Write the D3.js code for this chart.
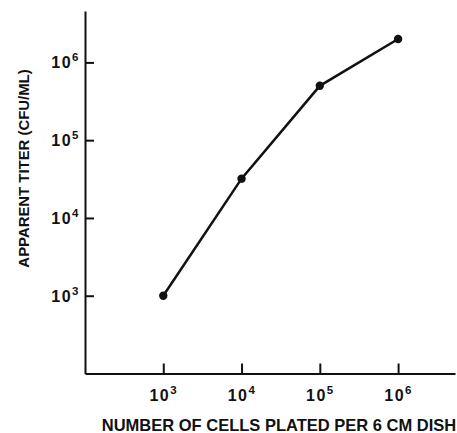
<!DOCTYPE html>
<html>
<head>
<meta charset="utf-8">
<script src="https://cdn.jsdelivr.net/npm/d3@7"></script>
<style>
  body { margin: 0; background: #fff; }
  text { font-family: "Liberation Sans", Arial, sans-serif; font-weight: bold; fill: #111; }
</style>
</head>
<body>
<div id="chart"></div>
<script>
// data
const cellsPlated = [1e3, 1e4, 1e5, 1e6];
const titer = [1e3, 3.2e4, 5e5, 2e6];
const tickValues = [1e3, 1e4, 1e5, 1e6];

const W = 457, H = 433;

const svg = d3.select("#chart").append("svg")
    .attr("width", W)
    .attr("height", H);

const x = d3.scaleLog()
    .domain([1e2, Math.pow(10, 6.727)])
    .range([85, 455]);

const y = d3.scaleLog()
    .domain([1e2, Math.pow(10, 6.661)])
    .range([373.5, 11]);

// "10" with the exponent raised
function powLabel(sel) {
  sel.each(function(d) {
    const t = d3.select(this);
    const e = Math.round(Math.log10(d));
    t.text(null).style("letter-spacing", "1.5px");
    t.append("tspan").style("font-size", "16px").text("10");
    t.append("tspan").attr("dy", "-7").style("font-size", "11.5px").text(e);
  });
}

// x axis
const gx = svg.append("g")
    .attr("transform", `translate(0,${y.range()[0]})`)
    .call(d3.axisBottom(x).tickValues(tickValues).tickSizeInner(-10).tickSizeOuter(0));
gx.select(".domain").attr("stroke", "#111").attr("stroke-width", 2);
gx.selectAll(".tick line").attr("stroke", "#111").attr("stroke-width", 2);
gx.selectAll(".tick text").attr("fill", "#111")
    .attr("y", 27).attr("dy", 0).call(powLabel);

// y axis
const gy = svg.append("g")
    .attr("transform", `translate(${x.range()[0]},0)`)
    .call(d3.axisLeft(y).tickValues(tickValues).tickSizeInner(-9).tickSizeOuter(0).tickPadding(5));
gy.select(".domain").attr("stroke", "#111").attr("stroke-width", 2);
gy.selectAll(".tick line").attr("stroke", "#111").attr("stroke-width", 2);
gy.selectAll(".tick text").attr("fill", "#111")
    .attr("dy", 5.5).call(powLabel);

// line and points
const pts = cellsPlated.map((c, i) => ({c: c, t: titer[i]}));

svg.append("path")
    .datum(pts)
    .attr("fill", "none")
    .attr("stroke", "#111")
    .attr("stroke-width", 2.5)
    .attr("d", d3.line().x(d => x(d.c)).y(d => y(d.t)));

svg.selectAll("circle")
    .data(pts)
    .join("circle")
      .attr("cx", d => x(d.c))
      .attr("cy", d => y(d.t))
      .attr("r", 4.2)
      .attr("fill", "#111");

// axis titles
svg.append("text")
    .attr("x", 279)
    .attr("y", 431)
    .attr("text-anchor", "middle")
    .style("font-size", "16.5px")
    .text("NUMBER OF CELLS PLATED PER 6 CM DISH");

svg.append("text")
    .attr("transform", "translate(28.5,168.5) rotate(-90)")
    .attr("text-anchor", "middle")
    .style("font-size", "14.9px")
    .text("APPARENT TITER (CFU/ML)");
</script>
</body>
</html>
